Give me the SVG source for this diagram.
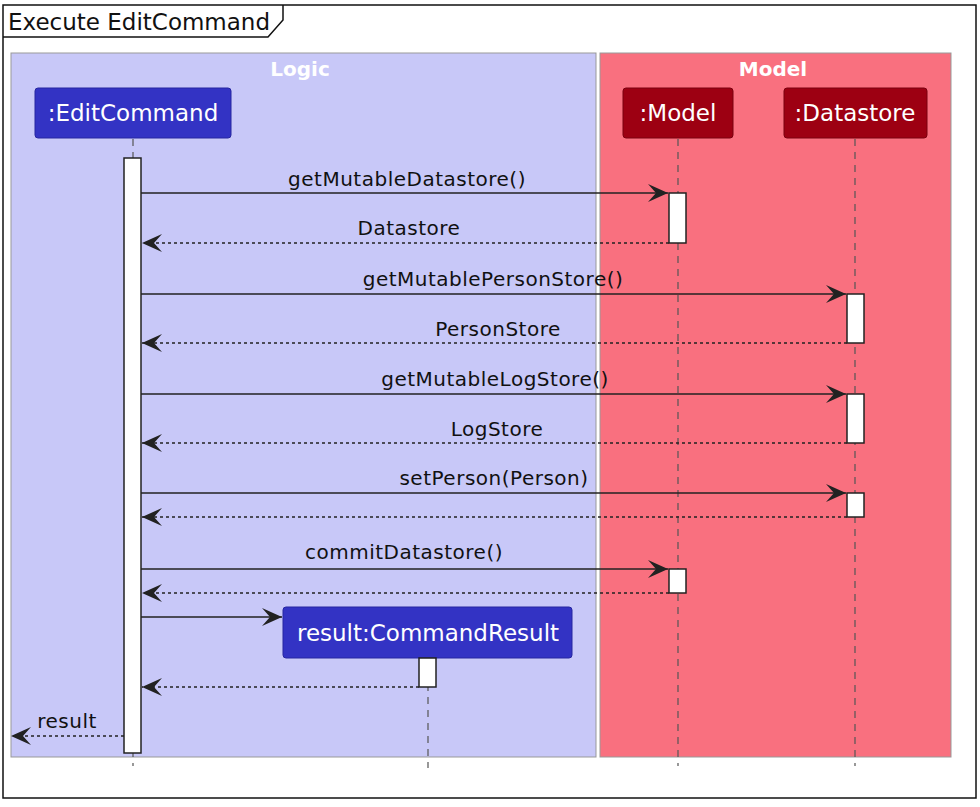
<svg xmlns="http://www.w3.org/2000/svg" width="980" height="807" viewBox="0 0 980 807">
<style>
text{font-family:"DejaVu Sans","Noto Sans",sans-serif;}
.msg{font-size:20px;letter-spacing:0.5px;fill:#111;text-anchor:middle;}
.ptxt{font-size:23px;fill:#fff;text-anchor:middle;}
.btitle{font-size:20px;font-weight:bold;fill:#fff;text-anchor:middle;}
.life{stroke:#555;stroke-width:1.2;stroke-dasharray:7 6;fill:none;}
.act{fill:#fff;stroke:#222;stroke-width:1.5;}
.call{stroke:#222;stroke-width:1.5;fill:none;marker-end:url(#arr);}
.ret{stroke:#222;stroke-width:1.5;stroke-dasharray:3 3;fill:none;marker-end:url(#arr);}
.pblue{fill:#3333C4;stroke:#2626A0;stroke-width:1;}
.pred{fill:#9D0012;stroke:#7A000E;stroke-width:1;}
</style>
<defs>
<marker id="arr" viewBox="0 0 20 18" refX="20" refY="9" markerWidth="20" markerHeight="18" markerUnits="userSpaceOnUse" orient="auto">
<path d="M0,0 L20,9 L0,18 L8,9 Z" fill="#222"/>
</marker>
</defs>
<rect width="980" height="807" fill="#fff"/>
<g id="frame">
<rect x="3" y="5" width="973" height="793" fill="none" stroke="#111" stroke-width="1.5"/>
<path d="M3,37 L268,37 L283,20 L283,5" fill="none" stroke="#111" stroke-width="1.5"/>
<text x="8" y="30" style="font-size:23px;fill:#111">Execute EditCommand</text>
</g>
<g id="box-logic">
<rect x="11" y="53" width="585" height="704" fill="#C8C8F8" stroke="#999" stroke-width="1"/>
<text class="btitle" x="300" y="76">Logic</text>
</g>
<g id="box-model">
<rect x="600" y="53" width="351" height="704" fill="#F9707F" stroke="#999" stroke-width="1"/>
<text class="btitle" x="773" y="76">Model</text>
</g>
<g id="lifelines">
<line class="life" x1="133" y1="139" x2="133" y2="766"/>
<line class="life" x1="678" y1="139" x2="678" y2="766"/>
<line class="life" x1="855" y1="139" x2="855" y2="766"/>
<line class="life" x1="428" y1="658" x2="428" y2="768"/>
</g>
<g id="p-editcommand">
<rect class="pblue" x="35" y="88" width="196" height="50" rx="3"/>
<text class="ptxt" x="133" y="121">:EditCommand</text>
</g>
<g id="p-model">
<rect class="pred" x="623" y="88" width="110" height="50" rx="3"/>
<text class="ptxt" x="678" y="121">:Model</text>
</g>
<g id="p-datastore">
<rect class="pred" x="784" y="88" width="143" height="50" rx="3"/>
<text class="ptxt" x="855" y="121">:Datastore</text>
</g>
<g id="p-commandresult">
<rect class="pblue" x="283" y="607" width="289" height="51" rx="3"/>
<text class="ptxt" x="428" y="641">result:CommandResult</text>
</g>
<g id="activations">
<rect class="act" x="124" y="158" width="17" height="595"/>
<rect class="act" x="669" y="193" width="17" height="50"/>
<rect class="act" x="847" y="294" width="17" height="49"/>
<rect class="act" x="847" y="394" width="17" height="49"/>
<rect class="act" x="847" y="493" width="17" height="24"/>
<rect class="act" x="669" y="569" width="17" height="24"/>
<rect class="act" x="419" y="658" width="17" height="29"/>
</g>
<g id="connectors">
<line class="call" x1="141" y1="193" x2="668" y2="193"/>
<text class="msg" x="407" y="186">getMutableDatastore()</text>
<line class="ret" x1="669" y1="243" x2="142" y2="243"/>
<text class="msg" x="409" y="235">Datastore</text>
<line class="call" x1="141" y1="294" x2="846" y2="294"/>
<text class="msg" x="493" y="286">getMutablePersonStore()</text>
<line class="ret" x1="847" y1="343" x2="142" y2="343"/>
<text class="msg" x="498" y="336">PersonStore</text>
<line class="call" x1="141" y1="394" x2="846" y2="394"/>
<text class="msg" x="495" y="386">getMutableLogStore()</text>
<line class="ret" x1="847" y1="443" x2="142" y2="443"/>
<text class="msg" x="497" y="436">LogStore</text>
<line class="call" x1="141" y1="493" x2="846" y2="493"/>
<text class="msg" x="494" y="485">setPerson(Person)</text>
<line class="ret" x1="847" y1="517" x2="142" y2="517"/>
<line class="call" x1="141" y1="569" x2="668" y2="569"/>
<text class="msg" x="404" y="559">commitDatastore()</text>
<line class="ret" x1="669" y1="593" x2="142" y2="593"/>
<line class="call" x1="141" y1="617" x2="282" y2="617"/>
<line class="ret" x1="419" y1="687" x2="142" y2="687"/>
<line class="ret" x1="124" y1="736" x2="11" y2="736"/>
<text class="msg" x="67" y="728">result</text>
</g>
</svg>
